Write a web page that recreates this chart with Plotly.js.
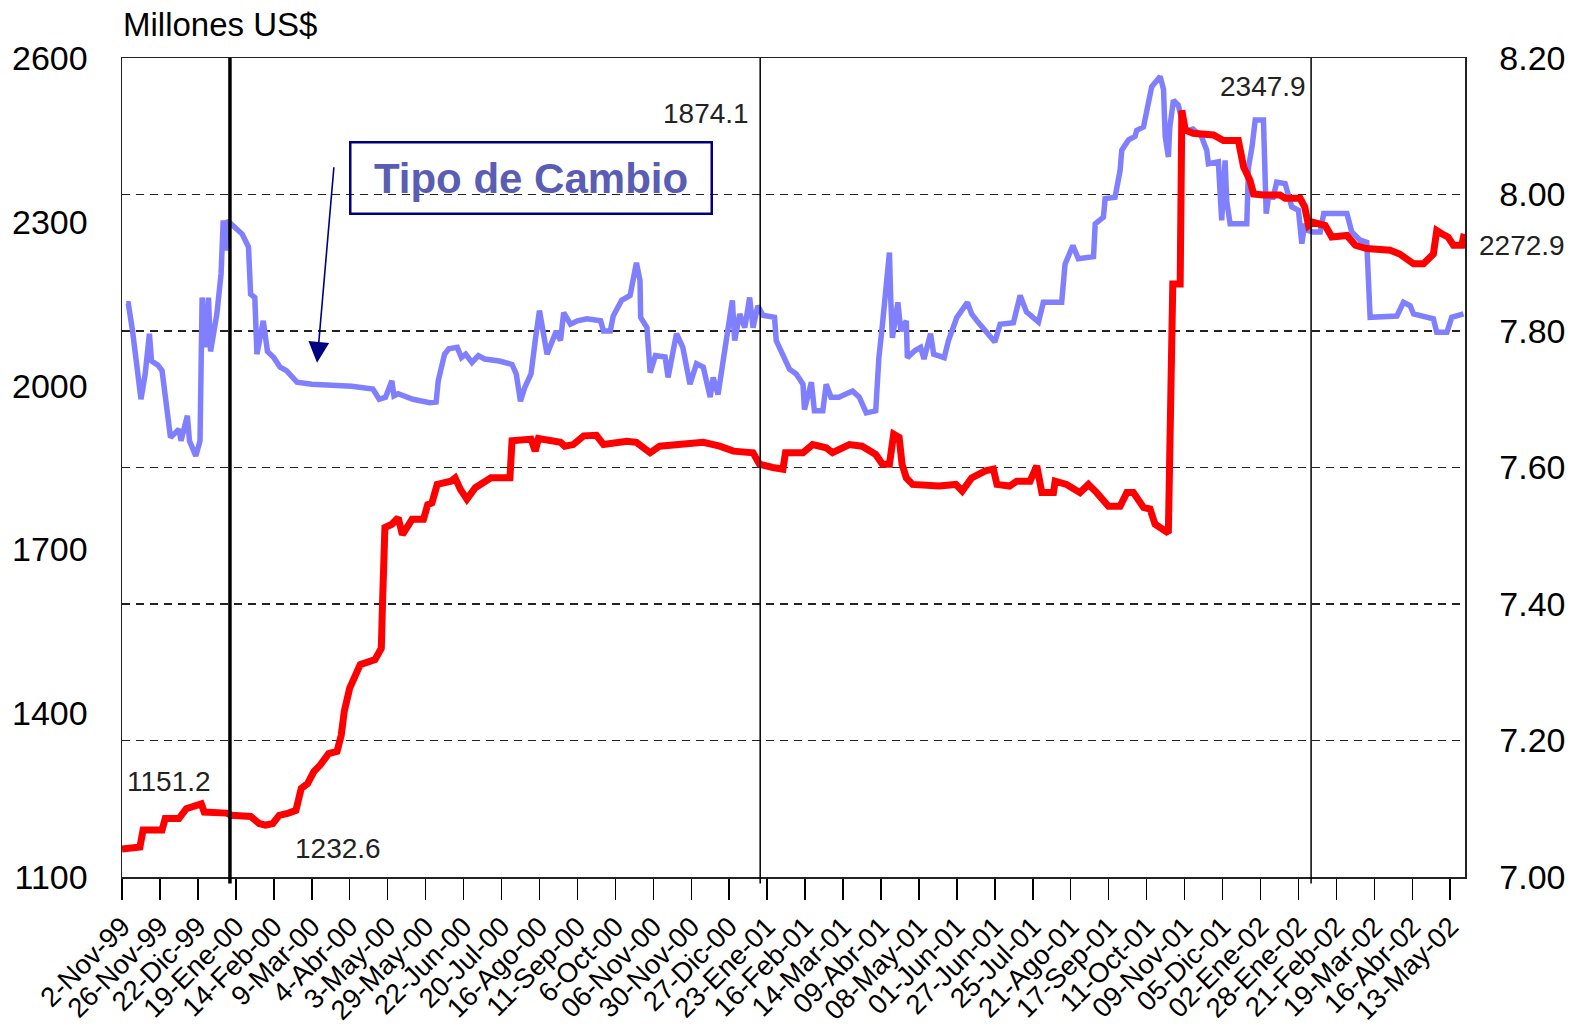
<!DOCTYPE html>
<html>
<head>
<meta charset="utf-8">
<script src="https://cdn.plot.ly/plotly-3.0.1.min.js"></script>
<style>
  html, body { margin: 0; padding: 0; background: #fff; }
  #chart { width: 1579px; height: 1031px; }
</style>
</head>
<body>
<div id="chart"></div>
<script>
// ---- Data (business-day index along the category axis) ----
const dateLabels = [
  "2-Nov-99","26-Nov-99","22-Dic-99","19-Ene-00","14-Feb-00","9-Mar-00","4-Abr-00","3-May-00",
  "29-May-00","22-Jun-00","20-Jul-00","16-Ago-00","11-Sep-00","6-Oct-00","06-Nov-00","30-Nov-00",
  "27-Dic-00","23-Ene-01","16-Feb-01","14-Mar-01","09-Abr-01","08-May-01","01-Jun-01","27-Jun-01",
  "25-Jul-01","21-Ago-01","17-Sep-01","11-Oct-01","09-Nov-01","05-Dic-01","02-Ene-02","28-Ene-02",
  "21-Feb-02","19-Mar-02","16-Abr-02","13-May-02"
];
const daysPerLabel = 18;
const lastDay = 637;

// Tipo de Cambio (right axis)
const tcDay = [2,3,5,9,11,13,14,17,19,21,23,27,28,31,32,35,37,38,40,41,42,45,47,48,49,50,54,57,60,61,63,64,67,69,72,75,78,83,90,109,119,122,125,128,129,131,138,142,146,149,150,153,155,159,161,163,166,169,172,179,185,187,189,191,194,196,198,
  201.6,204,206,208,209.5,212.7,216,220.5,227,228.4,231.6,233,237,241,242.6,244,245.7,246,249,250.5,253,257.6,259,263,266,269.4,272.5,275.7,279,280.4,282.7,285,287.5,289.5,290.6,293,295.4,297.7,299.3,301.6,304,309.5,310.3,315,316.6,319.8,323,323.7,327,328.4,332.4,334,336.3,340,343.4,346.5,349.7,353,357.5,359,360.7,362,364,364.6,365.4,368,369.4,372,372.5,376,378.8,380.4,383.5,385,390,392,396,401,403,406,
  410,414,416.5,422.8,426,429,434.7,437,445.7,447.3,451,453.6,460.8,461.6,465.5,466.3,471,473.4,474.2,477.4,480.5,481.3,484.5,486,488.4,492.4,494,494.8,496.3,497,498.7,501,503.5,505.8,508,512,514.5,515.3,520,521.6,523.2,524,525.6,533.5,534.3,536,537.5,541.4,542,542.7,543.8,546,547.7,551.7,554.8,558,559.6,561,562.8,565,568.3,570,581,583.3,587.3,590.4,591.2,592,604.7,607.8,611,612.6,622,623.6,628.4,630.7,636.3];
const tcValue = [7.84,7.84,7.80,7.70,7.737,7.796,7.756,7.75,7.742,7.688,7.644,7.656,7.639,7.676,7.639,7.617,7.639,7.849,7.776,7.849,7.77,7.825,7.884,7.962,7.918,7.962,7.952,7.942,7.923,7.854,7.849,7.766,7.815,7.77,7.761,7.747,7.742,7.725,7.722,7.719,7.715,7.70,7.703,7.727,7.705,7.708,7.70,7.697,7.695,7.696,7.727,7.766,7.774,7.776,7.761,7.766,7.754,7.764,7.759,7.756,7.751,7.737,7.697,7.717,7.737,7.786,7.83,
  7.766,7.786,7.80,7.786,7.827,7.81,7.815,7.818,7.815,7.80,7.80,7.822,7.845,7.852,7.874,7.90,7.874,7.82,7.805,7.739,7.764,7.762,7.732,7.796,7.776,7.722,7.752,7.747,7.703,7.732,7.707,7.752,7.81,7.845,7.786,7.825,7.805,7.849,7.805,7.837,7.823,7.82,7.786,7.756,7.744,7.737,7.722,7.685,7.725,7.683,7.683,7.722,7.703,7.703,7.707,7.712,7.703,7.68,7.683,7.761,7.81,7.859,7.915,7.849,7.79,7.842,7.80,7.815,7.761,7.771,7.776,7.759,7.796,7.766,7.761,7.786,7.82,7.842,7.825,7.813,
  7.798,7.784,7.81,7.812,7.852,7.828,7.813,7.842,7.842,7.898,7.925,7.906,7.909,7.957,7.967,7.994,7.996,8.035,8.065,8.08,8.085,8.094,8.099,8.124,8.158,8.173,8.154,8.085,8.055,8.099,8.138,8.131,8.099,8.094,8.096,8.085,8.065,8.045,8.048,7.962,8.05,7.99,7.957,7.957,8.04,8.07,8.109,8.109,8.04,7.972,7.996,7.996,8.018,8.016,7.982,7.977,7.928,7.957,7.947,7.945,7.945,7.972,7.972,7.945,7.933,7.93,7.874,7.82,7.822,7.842,7.837,7.825,7.818,7.798,7.798,7.82,7.825];

// Reservas, Millones US$ (left axis)
const resDay = [0,8.5,10,19,20.5,27,30.5,35,37.6,39,49.5,52,61,65,68,71.5,74.6,79,82.5,85,88,91,94,98,102,104,105.4,108,111,113,120,123,123.5,124,124.7,128,131,133,136,137.6,143,145,147,149.5,156,158,160.5,163.6,167.6,172,175,184,185,194,196,197.5,
  208,210,214,219,225,228.4,239.4,244,250.5,255,268,275.7,283.5,290,299.3,302.4,308.7,313.5,314.7,323,327.6,334,337,345,351,357.5,360.7,364,366,368.6,370,372,375,387.5,395.5,398.5,403,
  409.5,413.3,415,421,424.4,430.7,433.9,436.3,441.8,442.6,448,454.4,458.4,462.3,467.9,473.4,476.6,479.7,484.5,487.6,490,496.3,497,498.4,501.9,502.7,504.3,508,517.7,522.4,529.5,532,535,536.7,541.4,549.3,551.7,558.8,561,562.8,565,570.7,573.8,581,585,590.4,601.5,606,612.6,617.3,622,623.6,626,629,631.5,635.5,636.6];
const resValue = [1151.2,1155,1186,1186,1207,1207,1225,1232,1234,1219,1217,1213,1211,1198,1195,1198,1213,1217,1222,1262,1271,1293,1305,1326,1330,1360,1403,1446,1470,1489,1498,1519,1593,1678,1740,1746,1758,1727,1743,1755,1755,1782,1785,1819,1825,1831,1810,1792,1813,1825,1831,1831,1899,1902,1880,1903,
  1896,1889,1892,1908,1909,1892,1898,1896,1877,1889,1892,1896,1889,1880,1877,1856,1850,1847,1877,1877,1892,1886,1877,1892,1889,1874,1856,1856,1911,1905,1856,1831,1819,1816,1819,1807,1831,
  1844,1847,1819,1816,1825,1825,1853,1804,1804,1825,1819,1804,1819,1804,1779,1779,1804,1804,1777,1774,1746,1730,1956,2186,2186,2504,2468,2462,2459,2449,2449,2400,2376,2351,2349,2349,2343,2343,2327,2293,2299,2293,2272,2275,2257,2251,2248,2241,2223,2223,2241,2284,2278,2272,2257,2257,2278];

// Reference dates marked with vertical lines
const markerDays = [51.2, 302.7, 564];
const markerWidths = [3.5, 1.5, 1.5];

// Labels written on the chart
const valueNotes = [
  {text: "1151.2", x: 0.035, y: 0.116},
  {text: "1232.6", x: 0.1605, y: 0.0354},
  {text: "1874.1", x: 0.4352, y: 0.9328},
  {text: "2347.9", x: 0.8496, y: 0.9658},
  {text: "2272.9", x: 1.0424, y: 0.7705}
];

const FONT = "Liberation Sans, Arial, Helvetica, sans-serif";

const tickVals = dateLabels.map((_, k) => k * daysPerLabel);

const traces = [
  {
    x: tcDay, y: tcValue, type: "scatter", mode: "lines",
    name: "Tipo de Cambio", yaxis: "y",
    line: {color: "#8080ff", width: 5.5}
  },
  {
    x: resDay, y: resValue, type: "scatter", mode: "lines",
    name: "Reservas", yaxis: "y2",
    line: {color: "#ff0000", width: 7}
  }
];

const shapes = markerDays.map((d, k) => ({
  type: "line", xref: "x", yref: "paper",
  x0: d, x1: d, y0: -0.008, y1: 1,
  line: {color: "#000", width: markerWidths[k]},
  layer: "above"
}));

const annotations = valueNotes.map(n => ({
  text: n.text, xref: "paper", yref: "paper", x: n.x, y: n.y,
  showarrow: false, xanchor: "center", yanchor: "middle",
  font: {family: FONT, size: 28, color: "#222"}
}));

annotations.push({
  text: "Millones US$", xref: "paper", yref: "paper", x: -0.001, y: 1.0415,
  xanchor: "left", yanchor: "middle", showarrow: false,
  font: {family: FONT, size: 33, color: "#000"}
});

annotations.push({
  text: "<b>Tipo de Cambio</b>", xref: "paper", yref: "paper", x: 0.3042, y: 0.8529,
  xanchor: "center", yanchor: "middle", showarrow: false,
  width: 359, height: 69, borderpad: 0,
  bordercolor: "#000080", borderwidth: 2.5, bgcolor: "rgba(255,255,255,0)",
  font: {family: FONT, size: 42, color: "#5a5db4"}
});

annotations.push({
  text: "", xref: "x", yref: "y", x: 92.5, y: 7.7535,
  showarrow: true, ax: 17, ay: -197, axref: "pixel", ayref: "pixel",
  arrowhead: 2, arrowsize: 2.6, arrowwidth: 1.6, arrowcolor: "#000080"
});

const layout = {
  width: 1579, height: 1031,
  margin: {l: 122, r: 114, t: 58, b: 154, pad: 0},
  paper_bgcolor: "#fff", plot_bgcolor: "#fff",
  showlegend: false,
  font: {family: FONT, color: "#000"},
  xaxis: {
    range: [0, lastDay],
    tickmode: "array", tickvals: tickVals, ticktext: dateLabels,
    tickangle: -45, ticks: "outside", ticklen: 21, tickwidth: 1.5, tickcolor: "#000",
    tickfont: {family: FONT, size: 27.5, color: "#000"},
    showline: true, linecolor: "#222", linewidth: 1.5, mirror: true,
    showgrid: false, zeroline: false
  },
  yaxis: {
    side: "right", range: [7.0, 8.2], tickmode: "linear", tick0: 7.0, dtick: 0.2,
    tickformat: ".2f", ticks: "",
    tickfont: {family: FONT, size: 34, color: "#000"},
    ticklabelstandoff: 26,
    showline: true, linecolor: "#222", linewidth: 1.5,
    showgrid: true, gridcolor: "#222", gridwidth: 1.6, griddash: "8px,6px",
    zeroline: false
  },
  yaxis2: {
    side: "left", overlaying: "y", range: [1100, 2600], tickmode: "linear", tick0: 1100, dtick: 300,
    ticks: "",
    tickfont: {family: FONT, size: 34, color: "#000"},
    ticklabelstandoff: 26,
    showline: true, linecolor: "#222", linewidth: 1.5,
    showgrid: false, zeroline: false
  },
  shapes: shapes,
  annotations: annotations
};

Plotly.newPlot("chart", traces, layout, {displayModeBar: false, staticPlot: true});
</script>
</body>
</html>
